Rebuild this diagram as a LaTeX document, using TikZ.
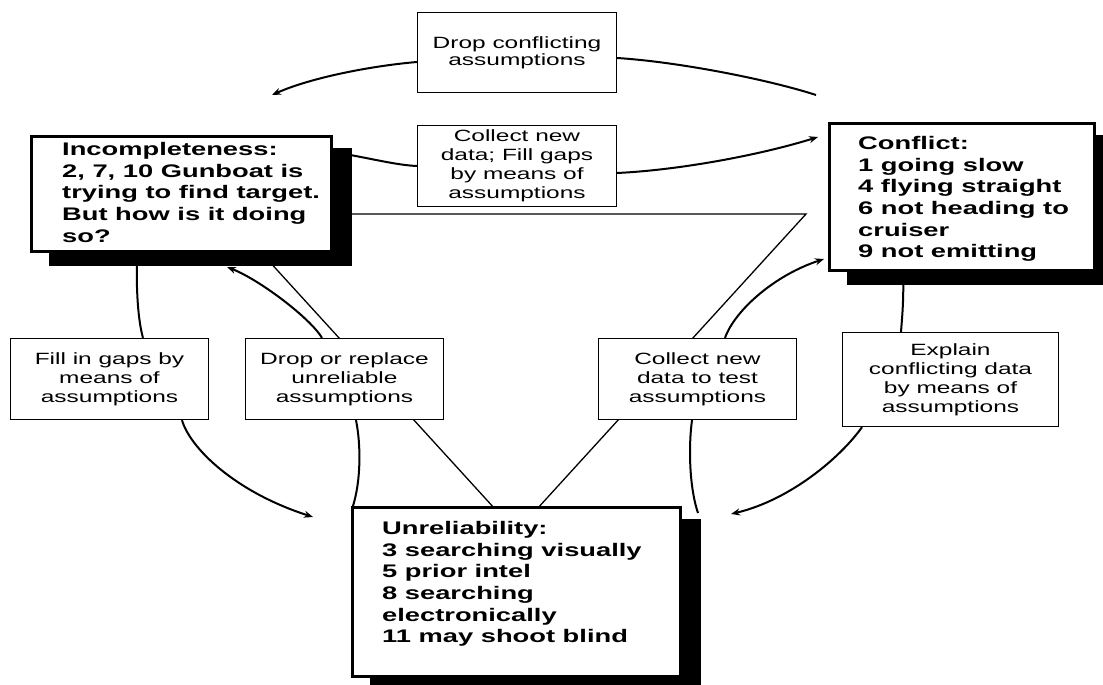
\documentclass[tikz,border=0pt]{standalone}
\usepackage{fontspec}
\setmainfont{Liberation Sans}[FakeStretch=1.5]
\usetikzlibrary{arrows.meta}
\pgfdeclarelayer{bg}
\pgfdeclarelayer{sh}
\pgfsetlayers{bg,sh,main}
\begin{document}
\begin{tikzpicture}[x=1pt,y=-1pt,
  lbl/.style={draw, line width=1.3pt, fill=white, align=center, inner sep=0pt, font=\fontsize{16.3}{19}\selectfont},
  big/.style={draw, line width=3pt, fill=white, inner sep=0pt},
  bigtxt/.style={anchor=north west, inner sep=0pt, align=left, font=\bfseries\fontsize{18.2}{21.7}\selectfont},
  arc/.style={line width=2pt},
  arr/.style={arc, -{Stealth[length=9pt,width=7pt]}},
  tri/.style={line width=1.3pt}]
\useasboundingbox (0,0) rectangle (1103,685);

% main boxes
\node[big, minimum width=300pt, minimum height=115pt] (incB) at (181.5,194) {};
\node[bigtxt] (incT) at (62,142) {Incompleteness:\\2, 7, 10 Gunboat is\\trying to find target.\\But how is it doing\\so?};
\node[big, minimum width=265pt, minimum height=147pt] (confB) at (962,197) {};
\node[bigtxt] (confT) at (858,136) {Conflict:\\1 going slow\\4 flying straight\\6 not heading to\\cruiser\\9 not emitting};
\node[big, minimum width=328pt, minimum height=169pt] (unrB) at (516.5,592) {};
\node[bigtxt] (unrT) at (382,521) {Unreliability:\\3 searching visually\\5 prior intel\\8 searching\\electronically\\11 may shoot blind};

% label boxes
\node[lbl, minimum width=199pt, minimum height=80pt, font=\fontsize{16.3}{17}\selectfont] (drop) at (517,52.5) {Drop conflicting\\assumptions};
\node[lbl, minimum width=199pt, minimum height=81pt] (col1) at (517,166) {Collect new\\data; Fill gaps\\by means of\\assumptions};
\node[lbl, minimum width=198pt, minimum height=81pt] (fill) at (109.5,379) {Fill in gaps by\\means of\\assumptions};
\node[lbl, minimum width=198pt, minimum height=81pt] (drep) at (344.5,379) {Drop or replace\\unreliable\\assumptions};
\node[lbl, minimum width=198pt, minimum height=81pt] (col2) at (697.5,379) {Collect new\\data to test\\assumptions};
\node[lbl, minimum width=216pt, minimum height=94pt] (expl) at (950.5,379.5) {Explain\\conflicting data\\by means of\\assumptions};

% free ends
\coordinate (c1) at (816,95);
\coordinate (a1) at (272,95);
\coordinate (a2) at (818,137);
\coordinate (t1) at (226,214);
\coordinate (t2) at (806,214);
\coordinate (t3) at (516,532);
\coordinate (a3) at (313,517);
\coordinate (a4) at (227,267);
\coordinate (c6) at (698,513);
\coordinate (a6) at (824,259);
\coordinate (a7) at (731,514);

\begin{pgfonlayer}{sh}
\foreach \b in {incB,confB,unrB}
  \fill ([shift={(19pt,-12.5pt)}]\b.south west) rectangle ([shift={(19pt,-12.5pt)}]\b.north east);
\end{pgfonlayer}

\begin{pgfonlayer}{bg}
\draw[tri] (t1) -- (t2) -- (t3) -- cycle;
\draw[arc] (c1) .. controls (770,80) and (680,62) .. ([yshift=-5.5pt]drop.east);
\draw[arr] ([yshift=-9.5pt]drop.west) .. controls (370,66) and (310,78) .. (a1);
\draw[arc] ([yshift=42pt]incB.east) .. controls (370,158) and (395,165) .. (col1.west);
\draw[arr] ([yshift=-7pt]col1.east) .. controls (680,170) and (760,155) .. (a2);
\draw[arc] ([xshift=-44.5pt]incB.south) .. controls (136,290) and (138,320) .. ([xshift=33.5pt]fill.north);
\draw[arr] ([xshift=72.5pt]fill.south) .. controls (190,448) and (235,492) .. (a3);
\draw[arc] ([xshift=2pt]unrB.north west) .. controls (361,480) and (361,445) .. ([xshift=11.5pt]drep.south);
\draw[arr] ([xshift=-22.5pt]drep.north) .. controls (310,318) and (260,280) .. (a4);
\draw[arc] (c6) .. controls (690,490) and (688,450) .. ([xshift=-5.5pt]col2.south);
\draw[arr] ([xshift=27.5pt]col2.north) .. controls (735,310) and (775,275) .. (a6);
\draw[arc] ([xshift=-59pt]confB.south) .. controls (904,300) and (902,318) .. ([xshift=-49.5pt]expl.north);
\draw[arr] ([xshift=-88.5pt]expl.south) .. controls (840,458) and (790,500) .. (a7);
\end{pgfonlayer}
\end{tikzpicture}
\end{document}
